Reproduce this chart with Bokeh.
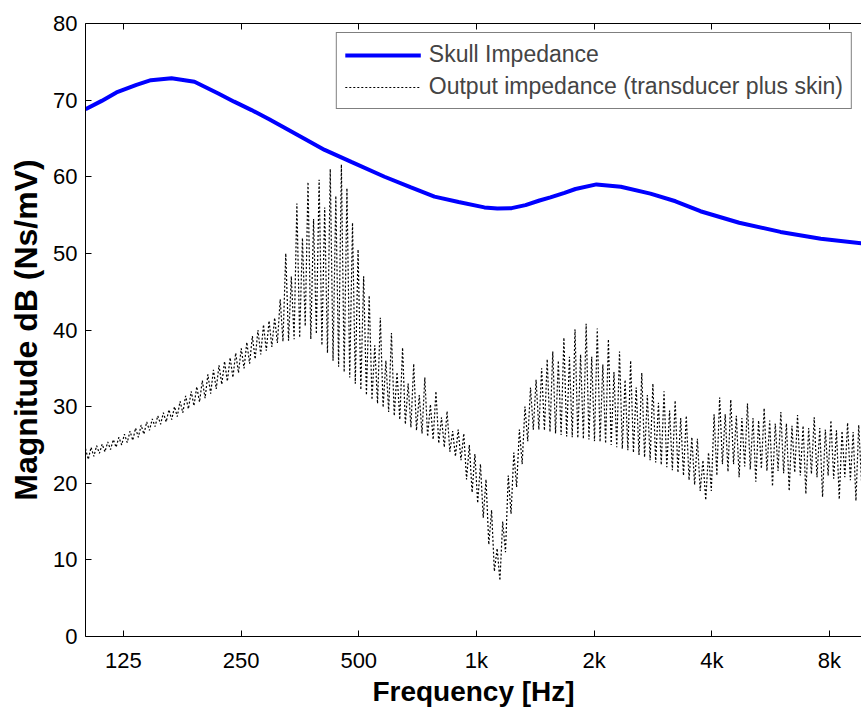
import numpy as np
from bokeh.plotting import figure
from bokeh.models import Range1d, FixedTicker, LogAxis, Legend, LegendItem
from bokeh.embed import file_html
from bokeh.resources import INLINE

# ---------------- data ----------------
x_ticks = [125, 250, 500, 1000, 2000, 4000, 8000]
x_tick_labels = ["125", "250", "500", "1k", "2k", "4k", "8k"]
y_ticks = [0, 10, 20, 30, 40, 50, 60, 70, 80]

skull_freq = [100, 110, 120, 135, 147, 166, 190, 218, 240, 266, 295, 323, 365,
              409, 480, 582, 680, 781, 900, 1048, 1131, 1230, 1335, 1450, 1546,
              1680, 1792, 2028, 2340, 2786, 3230, 3740, 4700, 5994, 7600, 9660]
skull_db = [68.8, 69.9, 71.0, 72.0, 72.6, 72.85, 72.4, 70.9, 69.8, 68.7, 67.5,
            66.4, 64.9, 63.5, 61.9, 60.0, 58.6, 57.4, 56.7, 56.0, 55.85, 55.9,
            56.3, 56.9, 57.3, 57.9, 58.4, 59.0, 58.7, 57.8, 56.8, 55.5, 54.0,
            52.8, 51.9, 51.3]

# output impedance: rapidly oscillating response, read as alternating
# peak and trough values along the frequency axis
out_peak = [24.5, 24.7, 24.9, 25.1, 25.4, 25.7, 26.0, 26.4, 26.8, 27.2,
            27.6, 28.0, 28.4, 28.8, 29.2, 29.6, 30.0, 30.7, 31.4, 32.0,
            32.6, 33.4, 34.2, 34.8, 35.4, 35.9, 36.4, 37.0, 37.6, 38.4,
            39.2, 40.0, 40.7, 41.2, 41.6, 44.0, 50.0, 47.0, 56.5, 52.0,
            59.3, 54.5, 59.6, 56.0, 61.0, 57.5, 61.6, 58.5, 54.0, 50.5,
            47.0, 44.5, 38.0, 41.6, 36.0, 39.6, 34.5, 37.7, 33.0, 35.6,
            31.5, 33.8, 30.3, 32.0, 28.6, 29.4, 26.8, 27.0, 26.5, 25.0,
            23.8, 22.5, 20.5, 16.5, 11.5, 15.0, 21.0, 24.0, 27.0, 30.0,
            32.5, 33.5, 35.0, 36.2, 37.2, 36.0, 39.0, 36.5, 40.1, 36.8,
            40.8, 36.5, 40.2, 35.5, 38.8, 34.5, 37.2, 33.5, 36.0, 32.5,
            34.4, 31.5, 33.0, 30.5, 32.0, 29.5, 30.8, 28.5, 28.8, 26.0,
            25.8, 23.0, 24.0, 29.0, 31.2, 29.0, 30.9, 28.8, 28.5, 30.4,
            28.5, 28.2, 29.8, 28.2, 27.8, 29.3, 27.8, 27.5, 28.9, 27.5,
            27.2, 28.6, 27.2, 27.0, 28.2, 26.9, 26.8, 27.9, 26.7, 27.6]
out_trough = [23.1, 23.5, 23.9, 24.1, 24.4, 24.7, 25.0, 25.3, 25.6, 26.0,
              26.4, 26.9, 27.4, 27.7, 28.0, 28.3, 28.7, 29.2, 29.7, 30.1,
              30.6, 31.1, 31.7, 32.3, 32.9, 33.3, 33.8, 34.4, 35.0, 35.6,
              36.2, 36.8, 37.3, 37.8, 38.3, 38.5, 38.6, 38.8, 39.0, 40.5,
              38.8, 39.5, 38.0, 37.0, 36.0, 35.2, 34.5, 33.8, 33.0, 32.2,
              31.5, 30.9, 30.4, 29.9, 29.3, 28.8, 28.3, 27.7, 27.3, 26.9,
              26.5, 26.1, 25.7, 25.2, 24.7, 24.1, 23.5, 23.0, 20.5, 18.8,
              17.4, 15.5, 12.0, 8.5, 7.3, 11.0, 16.0, 19.5, 22.5, 25.5,
              27.0, 27.0, 26.9, 26.7, 26.5, 26.3, 26.1, 26.0, 25.9, 25.8,
              25.7, 25.5, 25.4, 25.2, 25.0, 24.7, 24.5, 24.3, 24.0, 23.7,
              23.4, 23.0, 22.7, 22.4, 22.1, 21.7, 21.4, 21.0, 20.4, 19.8,
              19.0, 17.8, 19.0, 21.0, 22.5, 21.5, 22.5, 20.8, 22.2, 21.8,
              20.2, 21.9, 21.6, 19.6, 21.6, 21.3, 19.0, 21.4, 21.0, 18.6,
              21.2, 20.8, 18.2, 21.0, 20.6, 17.9, 20.8, 20.4, 17.7, 20.3]
out_freq = np.geomspace(100, 9660, 2 * len(out_peak))
out_db = np.empty(2 * len(out_peak))
out_db[0::2] = out_peak
out_db[1::2] = out_trough

FONT = "Liberation Sans"

p = figure(width=861, height=709, x_axis_type="log",
           x_range=Range1d(100, 9660), y_range=Range1d(0, 80),
           output_backend="svg", toolbar_location=None,
           min_border_left=85, min_border_right=0, min_border_top=23,
           min_border_bottom=70)
p.grid.visible = False
p.outline_line_color = None
p.background_fill_color = "white"
p.border_fill_color = "white"

r_out = p.line(out_freq, out_db, line_color="black", line_width=1.2,
               line_dash="2 2")
r_skull = p.line(skull_freq, skull_db, line_color="#0000ff", line_width=4)

xa = p.xaxis[0]
xa.ticker = FixedTicker(ticks=x_ticks)
xa.major_label_overrides = {t: l for t, l in zip(x_ticks, x_tick_labels)}
ya = p.yaxis[0]
ya.ticker = FixedTicker(ticks=y_ticks)
for ax in (xa, ya):
    ax.major_tick_in = 6
    ax.major_tick_out = 0
    ax.minor_tick_line_color = None
    ax.axis_line_color = "black"
    ax.major_tick_line_color = "black"
    ax.major_label_text_font = FONT
    ax.major_label_text_font_size = "22px"
    ax.major_label_text_color = "black"
    ax.axis_label_text_font = FONT
    ax.axis_label_text_font_style = "bold"
    ax.axis_label_text_color = "black"
xa.axis_label_text_font_size = "28px"
ya.axis_label_text_font_size = "32px"
xa.major_label_standoff = 11
ya.major_label_standoff = 8
xa.axis_label = "Frequency [Hz]"
ya.axis_label = "Magnitude dB (Ns/mV)"
xa.axis_label_standoff = 0
ya.axis_label_standoff = 6

top = LogAxis(ticker=FixedTicker(ticks=x_ticks), major_tick_in=6,
              major_tick_out=0, minor_tick_line_color=None,
              major_label_text_font_size="10px", major_label_text_color=None,
              major_label_standoff=0, axis_line_color="black")
p.add_layout(top, "above")

legend = Legend(items=[
    LegendItem(label="Skull Impedance", renderers=[r_skull]),
    LegendItem(label="Output impedance (transducer plus skin)", renderers=[r_out]),
], location="top_right")
legend.label_text_font = FONT
legend.label_text_font_size = "23px"
legend.glyph_width = 76
legend.label_standoff = 8
legend.padding = 8
legend.spacing = 5
legend.margin = 9
legend.border_line_color = "black"
legend.border_line_width = 1
legend.background_fill_alpha = 1
p.add_layout(legend)

open("out.html", "w").write(file_html(p, INLINE))
